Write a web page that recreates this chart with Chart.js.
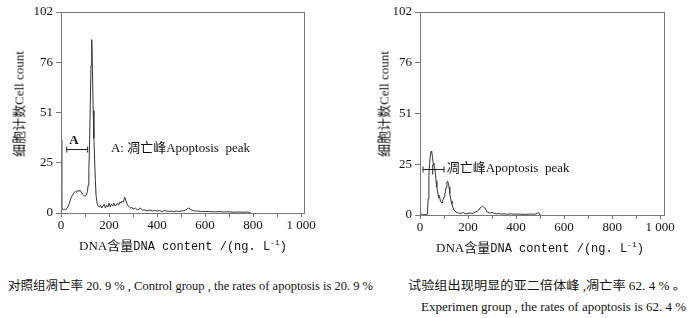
<!DOCTYPE html>
<html><head><meta charset="utf-8">
<script src="https://cdn.jsdelivr.net/npm/chart.js@4/dist/chart.umd.min.js"></script>
<style>
html,body{margin:0;padding:0;background:#fff;width:693px;height:318px;overflow:hidden;position:relative;}
.cv{position:absolute;top:0;}
.t{position:absolute;white-space:nowrap;color:#111;font-family:"Liberation Serif","Noto Sans CJK SC",serif;}
.ytitle{font-size:13px;transform:translate(-50%,-50%) rotate(-90deg);}
.xtitle{font-size:13px;transform:translateX(-50%);}
.mono{font-family:"Liberation Mono","Noto Sans CJK SC",monospace;font-size:12px;}
.cap{font-size:12px;transform-origin:0 50%;}
sup{font-size:8px;}
</style></head><body>
<div class="cv" style="left:0;width:340px;height:258px"><canvas id="c1" width="340" height="258"></canvas></div>
<div class="cv" style="left:340px;width:353px;height:258px"><canvas id="c2" width="353" height="258"></canvas></div>

<div class="t ytitle" style="left:18px;top:104px">细胞计数Cell count</div>
<div class="t ytitle" style="left:383px;top:104px">细胞计数Cell count</div>
<div class="t xtitle" style="left:183px;top:235px">DNA含量<span class="mono">DNA content /(ng. L<sup>-1</sup>)</span></div>
<div class="t xtitle" style="left:540px;top:237px">DNA含量<span class="mono">DNA content /(ng. L<sup>-1</sup>)</span></div>

<div class="t cap" id="cap1" data-w="365" style="left:8px;top:276px">对照组凋亡率 20. 9 % , Control group , the rates of apoptosis is 20. 9 %</div>
<div class="t cap" id="cap2" data-w="278" style="left:408px;top:276px">试验组出现明显的亚二倍体峰 ,凋亡率 62. 4 % 。</div>
<div class="t cap" id="cap3" data-w="265" style="left:421px;top:300px">Experimen group , the rates of apoptosis is 62. 4 %</div>

<script>
// ---- data ----
const controlX = [0,2,4,6,10,15,20,25,30,35,40,45,50,55,60,65,70,75,80,85,90,95,100,105,110,113,116,119,122,125,128,131,134,137,140,143,146,150,155,160,165,170,175,180,185,190,195,200,205,210,215,220,225,230,235,240,245,250,255,260,265,270,275,280,285,290,295,300,310,320,330,340,350,360,370,380,390,400,410,420,430,440,450,460,470,480,490,500,510,520,530,540,550,560,570,580,600,620,640,660,680,700,720,740,760,780,790];
const controlY = [37,30,3,2,1.5,2,1.5,2.5,3.5,5,7,8.5,9.5,10.5,11,10.5,11.5,11,11.5,10.5,9.5,9,8.5,9,11,14,22,35,55,75,88,72,52,38,27,17,9,5,3.5,3,4,2.5,3.5,4.5,2.5,4,3,5,3,4.5,3.5,5,3.5,4,5,4,5.5,5,6,5.5,8,6.5,4.5,3.5,3,2.5,3,2,2.5,1.5,2.5,1.5,1.5,1.2,1.5,1,1.3,1,1.2,0.8,1.2,1,0.8,1,0.7,1,0.8,1,1.2,1.5,2.5,1.8,1.2,1,1,0.8,0.8,0.7,0.6,0.7,0.5,0.6,0.4,0.5,0.4,0.5,0];
const expX = [0,5,10,15,20,25,28,31,34,37,40,43,46,49,52,55,58,61,64,67,70,73,76,79,82,85,88,91,94,97,100,103,106,109,112,115,118,121,124,127,130,133,136,140,145,150,155,160,170,180,190,200,210,220,230,240,245,250,255,260,265,270,275,280,290,300,310,320,330,340,350,360,370,380,390,400,420,440,460,480,490,495,500];
const expY = [1,0.5,0.3,0.2,0.2,0.2,0.3,0.5,8,20,26,30,32,31.5,29,26,25,24,21,17,14,12,10,8.5,9,7,6.5,6,7,8,9,10,12,14,16.5,17,16,14,11,8.5,7,5.5,4,3,2,1.5,1.2,1,0.8,1.2,0.6,0.8,1,0.7,1.5,2,2.5,3.5,4,4.5,4,3.5,2.5,1.5,1,1.2,0.8,0.6,0.7,0.5,0.6,0.4,0.5,0.6,0.4,0.5,0.4,0.3,0.5,0.4,1,1.2,0];
const yTickValues = [0,25.5,51,76.5,102];
const yTickLabels = ['0','25','51','76','102'];
const xTickValues = [0,100,200,300,400,500,600,700,800,900,1000];
const xTickLabels = ['0','','200','','400','','600','','800','','1 000'];

const FONT = '"Liberation Serif","Noto Sans CJK SC",serif';
const AX = '#777';

const framePlugin = {
  id:'frame',
  afterDraw(chart, args, opts){
    const a = chart.chartArea, ctx = chart.ctx;
    ctx.save();
    ctx.strokeStyle = AX; ctx.lineWidth = 1;
    ctx.strokeRect(Math.round(a.left)+0.5, Math.round(a.top)+0.5, Math.round(a.right-a.left), Math.round(a.bottom-a.top));
    // annotation
    const an = opts.ann; if(!an) return;
    const xs = chart.scales.x, ys = chart.scales.y;
    const x1 = xs.getPixelForValue(an.from), x2 = xs.getPixelForValue(an.to), y = Math.round(ys.getPixelForValue(an.y))+0.5;
    ctx.strokeStyle = '#222'; ctx.lineWidth = 1;
    ctx.beginPath(); ctx.moveTo(x1,y); ctx.lineTo(x2,y);
    ctx.moveTo(x1,y-3); ctx.lineTo(x1,y+3); ctx.moveTo(x2,y-3); ctx.lineTo(x2,y+3);
    if(an.mid!=null){const xm = xs.getPixelForValue(an.mid); ctx.moveTo(xm,y-5); ctx.lineTo(xm,y+5);}
    ctx.stroke();
    ctx.fillStyle = '#111'; ctx.textBaseline = 'middle';
    if(an.letter){
      ctx.font = 'bold 13px '+FONT; ctx.textAlign='center';
      ctx.fillText(an.letter, xs.getPixelForValue(an.letterX), ys.getPixelForValue(an.letterY));
    }
    ctx.font = '13px '+FONT; ctx.textAlign='left';
    ctx.fillText(an.text, xs.getPixelForValue(an.textX), ys.getPixelForValue(an.y));
    ctx.restore();
  }
};

function makeChart(id, xsArr, ysArr, xmax, pad, yW, xH, ann){
  const pts = xsArr.map((x,i)=>({x:x, y:ysArr[i]}));
  return new Chart(document.getElementById(id), {
    type:'line',
    data:{datasets:[{data:pts, borderColor:'#333', borderWidth:1, pointRadius:0, tension:0, fill:false}]},
    options:{
      responsive:false, animation:false, events:[],
      layout:{padding:pad},
      plugins:{legend:{display:false}, tooltip:{enabled:false}, frame:{ann:ann}},
      scales:{
        x:{type:'linear', min:0, max:xmax,
          afterBuildTicks:s=>{s.ticks = xTickValues.map(v=>({value:v}));},
          afterFit:s=>{s.height = xH;},
          ticks:{autoSkip:false, maxRotation:0, padding:1, color:'#111', font:{family:FONT, size:13},
            callback:(v)=>{const i = xTickValues.indexOf(v); return i>=0?xTickLabels[i]:'';}},
          grid:{drawOnChartArea:false, tickLength:4, color:AX},
          border:{color:AX}},
        y:{type:'linear', min:0, max:102,
          afterBuildTicks:s=>{s.ticks = yTickValues.map(v=>({value:v}));},
          afterFit:s=>{s.width = yW;},
          ticks:{autoSkip:false, padding:3, color:'#111', font:{family:FONT, size:13},
            callback:(v)=>{const i = yTickValues.indexOf(v); return i>=0?yTickLabels[i]:'';}},
          grid:{drawOnChartArea:false, tickLength:5, color:AX},
          border:{color:AX}}
      }
    },
    plugins:[framePlugin]
  });
}

makeChart('c1', controlX, controlY, 1012, {top:12, right:36, left:0, bottom:0}, 61, 45,
  {from:24, to:111, y:32.5, letter:'A', letterX:54, letterY:36.5, textX:208, text:'A: 凋亡峰Apoptosis  peak'});
makeChart('c2', expX, expY, 1016, {top:12, right:29, left:0, bottom:0}, 80, 43,
  {from:12.5, to:100, mid:53, y:23.1, textX:111, text:'凋亡峰Apoptosis  peak'});

document.querySelectorAll('.cap').forEach(el=>{
  const w = el.getBoundingClientRect().width;
  const target = +el.dataset.w;
  el.style.transform = 'scaleX('+(target/w)+')';
});
</script>
</body></html>
